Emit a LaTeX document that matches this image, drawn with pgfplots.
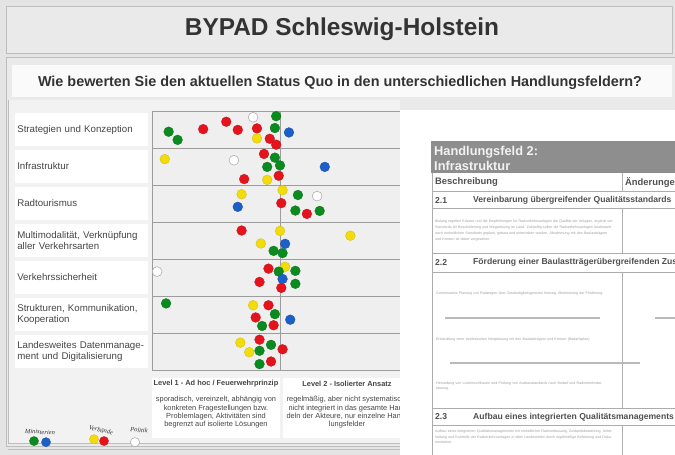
\documentclass[border=0pt]{standalone}
\usepackage{pgfplots}
\pgfplotsset{compat=1.18}
\usepackage{fontspec}
\setmainfont{Liberation Sans}
\newfontfamily\hand{Liberation Serif}
\definecolor{slidebg}{HTML}{E4E4E4}
\definecolor{titlebg}{HTML}{EAEAEA}
\definecolor{framec}{HTML}{BDBDBD}
\definecolor{panelbg}{HTML}{F2F2F2}
\definecolor{chartbg}{HTML}{EFEFEF}
\definecolor{gridc}{HTML}{9C9C9C}
\definecolor{txt}{HTML}{333333}
\definecolor{lbl}{HTML}{454545}
\definecolor{cgreen}{HTML}{0B8A1F}
\definecolor{cred}{HTML}{E5131C}
\definecolor{cyellow}{HTML}{F2DC0C}
\definecolor{cblue}{HTML}{1C5FC7}
\definecolor{docgray}{HTML}{8E8E8E}
\definecolor{doctxt}{HTML}{505050}
\pgfplotsset{dot/.style={only marks, mark=*, mark size=4.9pt, mark options={draw=#1!85!black, fill=#1, line width=0.3pt}},
  wdot/.style={only marks, mark=*, mark size=4.9pt, mark options={draw=gray!70, fill=white, line width=0.5pt}}}
\begin{document}
\begin{tikzpicture}
\begin{scope}[x=1pt,y=-1pt]
\clip (0,0) rectangle (675,455);
\fill[slidebg] (0,0) rectangle (675,455);
% title box
\draw[framec, fill=titlebg] (6,6) rectangle (672,53);
\node[font=\fontsize{24.4}{28}\selectfont\bfseries, text=txt] at (342,29.5) {BYPAD Schleswig-Holstein};
% lower frame
\draw[framec, fill=titlebg] (6,57) rectangle (680,446);
\fill[white!96!gray] (12,65) rectangle (672,97);
\node[font=\fontsize{14.4}{16}\selectfont\bfseries, text=txt] at (340,82.5) {Wie bewerten Sie den aktuellen Status Quo in den unterschiedlichen Handlungsfeldern?};
% left panel
\fill[panelbg] (8,100) rectangle (400,443);
\draw[framec, line width=0.8pt] (8,100) -- (8,443) -- (400,443);
\draw[framec] (8,449) -- (675,449);
% level boxes
\fill[white] (152,378) rectangle (280,438);
\fill[white] (283,378) rectangle (411,438);
\node[font=\fontsize{7.4}{8}\selectfont\bfseries, text=lbl] at (216,384) {Level 1 - Ad hoc / Feuerwehrprinzip};
\node[font=\fontsize{7.4}{8.3}\selectfont, text=lbl, align=center] at (216,412.5) {sporadisch, vereinzelt, abhängig von\\konkreten Fragestellungen bzw.\\Problemlagen, Aktivitäten sind\\begrenzt auf isolierte Lösungen};
\node[font=\fontsize{7.4}{8}\selectfont\bfseries, text=lbl] at (347,384) {Level 2 - Isolierter Ansatz};
\node[font=\fontsize{7.4}{8.3}\selectfont, text=lbl, align=center] at (347,412.5) {regelmäßig, aber nicht systematisch,\\nicht integriert in das gesamte Han-\\deln der Akteure, nur einzelne Hand-\\lungsfelder};
% handwritten legend labels
\node[font=\hand\itshape\fontsize{6.5}{7}\selectfont, text=txt, rotate=-4] at (40,432) {Ministerien};
\node[font=\hand\itshape\fontsize{6.5}{7}\selectfont, text=txt, rotate=-12] at (101,430) {Verbände};
\node[font=\hand\itshape\fontsize{6.5}{7}\selectfont, text=txt, rotate=-6] at (139,430) {Politik};
\end{scope}

\begin{axis}[
  at={(152pt,-370pt)}, anchor=south west,
  scale only axis, width=248pt, height=259pt,
  xmin=0, xmax=1.9375, ymin=0.5, ymax=7.5, y dir=reverse,
  axis background/.style={fill=chartbg},
  axis line style={gridc, line width=0.8pt},
  xtick={1}, xticklabels={}, xmajorgrids,
  ytick={1,2,3,4,5,6,7},
  minor ytick={1.5,2.5,3.5,4.5,5.5,6.5}, yminorgrids,
  major tick length=0pt, minor tick length=0pt,
  grid style={gridc, line width=0.8pt},
  minor grid style={gridc, line width=0.8pt},
  yticklabels={Strategien und Konzeption, Infrastruktur, Radtourismus,
    {Multimodalität, Verknüpfung\\aller Verkehrsarten}, Verkehrssicherheit,
    {Strukturen, Kommunikation,\\Kooperation},
    {Landesweites Datenmanage-\\ment und Digitalisierung}},
  yticklabel style={anchor=east, xshift=-4pt, fill=white, text width=128pt,
    minimum height=33pt, inner sep=2.5pt, align=left, text=lbl,
    font=\fontsize{9.7}{11.2}\selectfont},
  clip=false,
]
\addplot[dot=cred] coordinates {
 (0.58,0.79) (0.40,0.99) (0.67,1.01) (0.82,0.97) (0.92,1.25) (0.97,1.41)
 (0.875,1.66) (0.72,2.34) (0.99,2.25)
 (1.01,2.99) (1.21,3.28)
 (0.70,3.73)
 (0.91,4.76) (0.84,5.12) (1.01,5.28)
 (0.91,5.75) (0.81,6.08) (0.95,6.29)
 (0.84,6.68) (1.02,6.94) (0.93,7.27)
};
\addplot[dot=cyellow] coordinates {
 (0.82,1.24) (0.10,1.80) (0.90,2.36) (0.70,2.75) (1.02,2.64)
 (1.00,3.74) (1.55,3.87) (0.85,4.08) (1.04,4.71) (0.79,5.75)
 (0.69,6.76) (0.76,7.02)
};
\addplot[dot=cgreen] coordinates {
 (0.97,0.64) (0.96,0.96) (0.13,1.06) (0.20,1.28)
 (0.96,1.76) (0.90,2.01) (1.00,1.97)
 (1.14,2.77) (1.12,3.19) (1.31,3.20)
 (0.95,4.28) (1.02,4.34)
 (0.99,4.84) (1.12,4.82) (1.12,5.17)
 (0.11,5.70) (0.96,5.99) (0.86,6.31)
 (0.93,6.82) (0.84,6.98) (0.84,7.34)
};
\addplot[dot=cblue] coordinates {
 (1.07,1.08) (1.35,2.01) (0.67,3.09) (1.04,4.09) (1.02,5.04) (1.08,6.14)
};
\addplot[wdot] coordinates {
 (0.79,0.67) (0.64,1.83) (1.29,2.80) (0.04,4.84)
};
% legend dots
\addplot[dot=cgreen, mark size=4.6pt, forget plot] coordinates {(-0.922,9.42)};
\addplot[dot=cblue, mark size=4.6pt, forget plot] coordinates {(-0.828,9.45)};
\addplot[dot=cyellow, mark size=4.6pt, forget plot] coordinates {(-0.453,9.37)};
\addplot[dot=cred, mark size=4.6pt, forget plot] coordinates {(-0.375,9.42)};
\addplot[wdot, mark size=4.6pt, forget plot] coordinates {(-0.133,9.45)};
\end{axis}

\begin{scope}[x=1pt,y=-1pt]
\clip (400,110) rectangle (675,455);
\fill[white] (400,110) rectangle (675,455);
\fill[docgray] (431,141) rectangle (675,173);
\node[anchor=west, font=\fontsize{12.8}{14}\selectfont\bfseries, text=white!90!gray, inner sep=0pt] at (434,152.5) {Handlungsfeld 2:};
\node[anchor=west, font=\fontsize{12.8}{14}\selectfont\bfseries, text=white!90!gray, inner sep=0pt] at (434,166) {Infrastruktur};
\begin{scope}[gray!65, line width=0.9pt]
\draw (432,173) -- (432,455);
\draw (432,191) -- (675,191);
\draw (432,208) -- (675,208);
\draw (432,253) -- (675,253);
\draw (432,272) -- (675,272);
\draw (432,408) -- (675,408);
\draw (432,425) -- (675,425);
\draw (622,173) -- (622,191);
\draw (622,208) -- (622,253);
\draw (622,272) -- (622,408);
\draw (622,425) -- (622,455);
\draw[line width=1.3pt, gray!55] (445,318) -- (600,318);
\draw[line width=1.3pt, gray!55] (655,318) -- (675,318);
\draw[line width=1.3pt, gray!55] (450,363) -- (640,363);
\end{scope}
\begin{scope}[every node/.style={anchor=west, inner sep=0pt, text=doctxt}]
\node[font=\fontsize{9.4}{10}\selectfont\bfseries] at (435,182.5) {Beschreibung};
\node[font=\fontsize{9.4}{10}\selectfont\bfseries] at (625,182.5) {Änderungen};
\node[font=\fontsize{8.6}{9}\selectfont\bfseries] at (435,200.5) {2.1};
\node[font=\fontsize{8.6}{9}\selectfont\bfseries] at (473,200.5) {Vereinbarung übergreifender Qualitätsstandards};
\node[font=\fontsize{8.6}{9}\selectfont\bfseries] at (435,262.5) {2.2};
\node[font=\fontsize{8.6}{9}\selectfont\bfseries] at (473,262.5) {Förderung einer Baulastträgerübergreifenden Zusammenarbeit};
\node[font=\fontsize{8.6}{9}\selectfont\bfseries] at (435,417) {2.3};
\node[font=\fontsize{8.6}{9}\selectfont\bfseries] at (473,417) {Aufbau eines integrierten Qualitätsmanagements};
\node[font=\fontsize{3.6}{5.9}\selectfont, text=gray!75, text width=178pt, align=left] at (435,230.5) {Bislang regelten Erlasse und die Empfehlungen für Radverkehrsanlagen die Qualität der Anlagen, ergänzt um Standards für Beschilderung und Wegweisung im Land. Zukünftig sollen die Radverkehrsanlagen landesweit nach einheitlichen Standards geplant, gebaut und unterhalten werden, Abstimmung mit den Baulastträgern und Kreisen ist dabei vorgesehen.};
\node[font=\fontsize{3.6}{5.5}\selectfont, text=gray!75, text width=170pt, align=left] at (436,294) {Gemeinsame Planung von Radwegen über Zuständigkeitsgrenzen hinweg, Abstimmung der Förderung.};
\node[font=\fontsize{3.6}{5.5}\selectfont, text=gray!75, text width=170pt, align=left] at (436,339.5) {Entwicklung einer landesweiten Netzplanung mit den Baulastträgern und Kreisen (Bedarfsplan).};
\node[font=\fontsize{3.6}{5.5}\selectfont, text=gray!75, text width=170pt, align=left] at (436,386) {Herstellung von Lückenschlüssen und Prüfung von Ausbaustandards nach Bedarf und Radverkehrsbelastung.};
\node[font=\fontsize{3.6}{5.3}\selectfont, text=gray!75, text width=178pt, align=left] at (435,437) {Aufbau eines integrierten Qualitätsmanagements mit einheitlicher Datenerfassung, Zustandsbewertung, Unterhaltung und Kontrolle der Radverkehrsanlagen in allen Landesteilen durch regelmäßige Befahrung und Dokumentation.};
\end{scope}
\end{scope}

\pgfresetboundingbox
\path (0pt,0pt) rectangle (675pt,-455pt);
\end{tikzpicture}
\end{document}
